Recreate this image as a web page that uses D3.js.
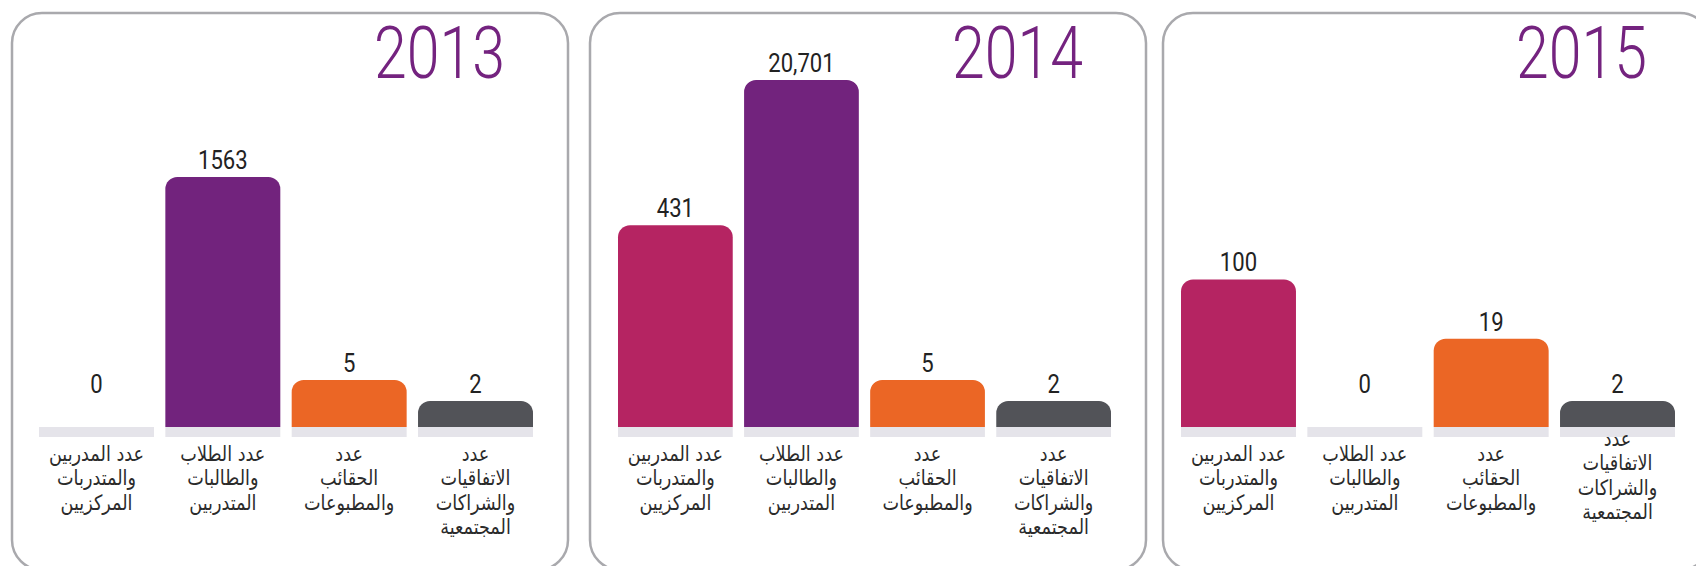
<!DOCTYPE html>
<html>
<head>
<meta charset="utf-8">
<script src="https://cdn.jsdelivr.net/npm/d3@7"></script>
<style>
  html, body { margin: 0; padding: 0; background: #fff; }
  svg { display: block; }
</style>
</head>
<body>
<div id="chart"></div>
<script>
// Data
const years = ["2013", "2014", "2015"];
const categories = [
    ["عدد المدربين", "والمتدربات", "المركزيين"],
    ["عدد الطلاب", "والطالبات", "المتدربين"],
    ["عدد", "الحقائب", "والمطبوعات"],
    ["عدد", "الاتفاقيات", "والشراكات", "المجتمعية"]
];
const values2013 = [0, 1563, 5, 2];
const values2014 = [431, 20701, 5, 2];
const values2015 = [100, 0, 19, 2];
const colors = ["#b52462", "#72237d", "#eb6625", "#525358"];

const allValues = [values2013, values2014, values2015];

// Layout
const width = 1696;
const height = 566;
const panels = [
    { x: 12, w: 556, padL: 27 },
    { x: 590, w: 556, padL: 28 },
    { x: 1163, w: 547, padL: 18 }
];
const boxTop = 13, boxHeight = 557, boxRadius = 30;
const baseline = 427, stripHeight = 10;
const barRadius = 12;

const svg = d3.select("#chart").append("svg")
    .attr("width", width)
    .attr("height", height);

// bars in the original are not linear, so a symlog scale is used
const y = d3.scaleSymlog()
    .constant(2)
    .domain([0, d3.max(allValues.flat())])
    .range([baseline, 80]);

const fmt = v => v >= 10000 ? d3.format(",")(v) : String(v);

function topRounded(x, y0, w, h, r) {
    r = Math.min(r, h, w / 2);
    return `M${x},${y0 + h}V${y0 + r}A${r},${r} 0 0 1 ${x + r},${y0}` +
        `H${x + w - r}A${r},${r} 0 0 1 ${x + w},${y0 + r}V${y0 + h}Z`;
}

years.forEach((year, p) => {
    const panel = panels[p];
    const values = allValues[p];
    const g = svg.append("g");

    g.append("rect")
        .attr("x", panel.x)
        .attr("y", boxTop)
        .attr("width", panel.w)
        .attr("height", boxHeight)
        .attr("rx", boxRadius)
        .attr("fill", "none")
        .attr("stroke", "#a9a9ad")
        .attr("stroke-width", 2.5);

    // year title
    g.append("text")
        .attr("transform", `translate(${panel.x + panel.w - 63},78) scale(0.82,1)`)
        .attr("text-anchor", "end")
        .attr("font-family", "Roboto, sans-serif")
        .attr("font-weight", 300)
        .attr("font-size", 72)
        .attr("fill", "#74237f")
        .text(year);

    const x = d3.scaleBand()
        .domain(d3.range(values.length))
        .range([panel.x + panel.padL, panel.x + panel.w - 35])
        .paddingInner(0.09)
        .paddingOuter(0);

    // grey base strips
    g.selectAll(".strip")
        .data(values)
        .join("rect")
        .attr("class", "strip")
        .attr("x", (d, i) => x(i))
        .attr("y", baseline)
        .attr("width", x.bandwidth())
        .attr("height", stripHeight)
        .attr("fill", "#e5e4ea");

    // bars
    g.selectAll(".bar")
        .data(values.map((v, i) => ({ v, i })).filter(d => d.v > 0))
        .join("path")
        .attr("class", "bar")
        .attr("d", d => topRounded(x(d.i), y(d.v), x.bandwidth(), baseline - y(d.v), barRadius))
        .attr("fill", d => colors[d.i]);

    // value labels
    g.selectAll(".value")
        .data(values)
        .join("text")
        .attr("class", "value")
        .attr("transform", (d, i) =>
            `translate(${x(i) + x.bandwidth() / 2},${Math.min(y(d), baseline - 26) - 8}) scale(0.85,1)`)
        .attr("text-anchor", "middle")
        .attr("font-family", "Roboto, sans-serif")
        .attr("font-size", 26)
        .attr("fill", "#222")
        .text(d => fmt(d));

    // category labels
    categories.forEach((lines, i) => {
        const shift = (p === 2 && i === 3) ? -15 : 0;
        const t = g.append("text")
            .attr("transform", `translate(${x(i) + x.bandwidth() / 2},${461 + shift}) scale(0.84,1)`)
            .attr("text-anchor", "middle")
            .attr("font-family", "'DejaVu Sans', sans-serif")
            .attr("font-size", 21)
            .attr("fill", "#2b2b2b")
            .attr("direction", "rtl");
        lines.forEach((line, k) => {
            t.append("tspan")
                .attr("x", 0)
                .attr("y", k * 24.5)
                .text(line);
        });
    });
});
</script>
</body>
</html>
